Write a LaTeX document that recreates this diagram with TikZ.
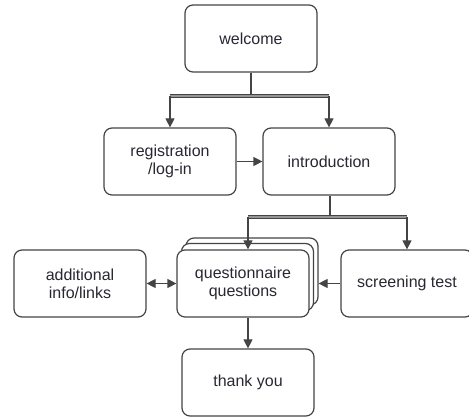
\documentclass[tikz,border=0pt]{standalone}
\usepackage{fontspec}
\setmainfont{Liberation Sans}
\usetikzlibrary{arrows.meta,positioning}
\definecolor{flowLine}{RGB}{68, 68, 68}
\definecolor{flowText}{RGB}{40, 40, 50}
\definecolor{flowBar}{RGB}{150, 150, 150}

\begin{document}
\begin{tikzpicture}[
  x=1pt, y=-1pt,
  stepbox/.style={
    draw=flowLine,
    line width=1.2pt,
    fill=white,
    rounded corners=8pt,
    minimum width=132pt,
    minimum height=67pt,
    align=center,
    text=flowText,
    font=\fontsize{16}{18}\selectfont
  },
  arrow/.style={-{Triangle[length=9pt,width=9pt]},line width=1.2pt,flowLine},
  twoway/.style={{Triangle[length=9pt,width=9pt]}-{Triangle[length=9pt,width=9pt]},line width=1.2pt,flowLine},
  split/.style={line width=1.2pt,flowLine,double=flowBar,double distance=2.5pt}
]
  \useasboundingbox (0,0) rectangle (469,419);
  \node[stepbox] (welcome) at (251,38.5) {welcome};
  \node[stepbox] (registration) at (170,161.5) {registration\\/log-in};
  \node[stepbox] (introduction) at (329,161.5) {introduction};
  % stacked questionnaire pages
  \node[stepbox] (layer3) at (252,271.5) {};
  \node[stepbox] (layer2) at (247.5,277) {};
  \node[stepbox] (questionnaire) at (243,283.5) {questionnaire\\questions};
  \node[stepbox] (additional) at (80,283.5) {additional\\info/links};
  \node[stepbox] (screening) at (407,283.5) {screening test};
  \node[stepbox] (thanks) at (248,382.5) {thank you};
  \coordinate (fork1) at (251,96);
  \coordinate (fork2) at (330,217);
  % welcome fork
  \draw[line width=1.2pt,flowLine] (welcome.south) -- (fork1);
  \draw[split] (registration.north |- fork1) -- (introduction.north |- fork1);
  \draw[arrow] (registration.north |- fork1) -- (registration.north);
  \draw[arrow] (introduction.north |- fork1) -- (introduction.north);
  \draw[arrow] (registration.east) -- (introduction.west);
  % introduction fork
  \draw[line width=1.2pt,flowLine] (introduction.south -| fork2) -- (fork2);
  \draw[split] (thanks.north |- fork2) -- (screening.north |- fork2);
  \draw[arrow] (thanks.north |- fork2) -- (thanks.north |- questionnaire.north);
  \draw[arrow] (screening.north |- fork2) -- (screening.north);
  \draw[arrow] (screening.west) -- (screening.west -| layer3.east);
  \draw[twoway] (additional.east) -- (questionnaire.west);
  \draw[arrow] (thanks.north |- questionnaire.south) -- (thanks.north);
\end{tikzpicture}
\end{document}
